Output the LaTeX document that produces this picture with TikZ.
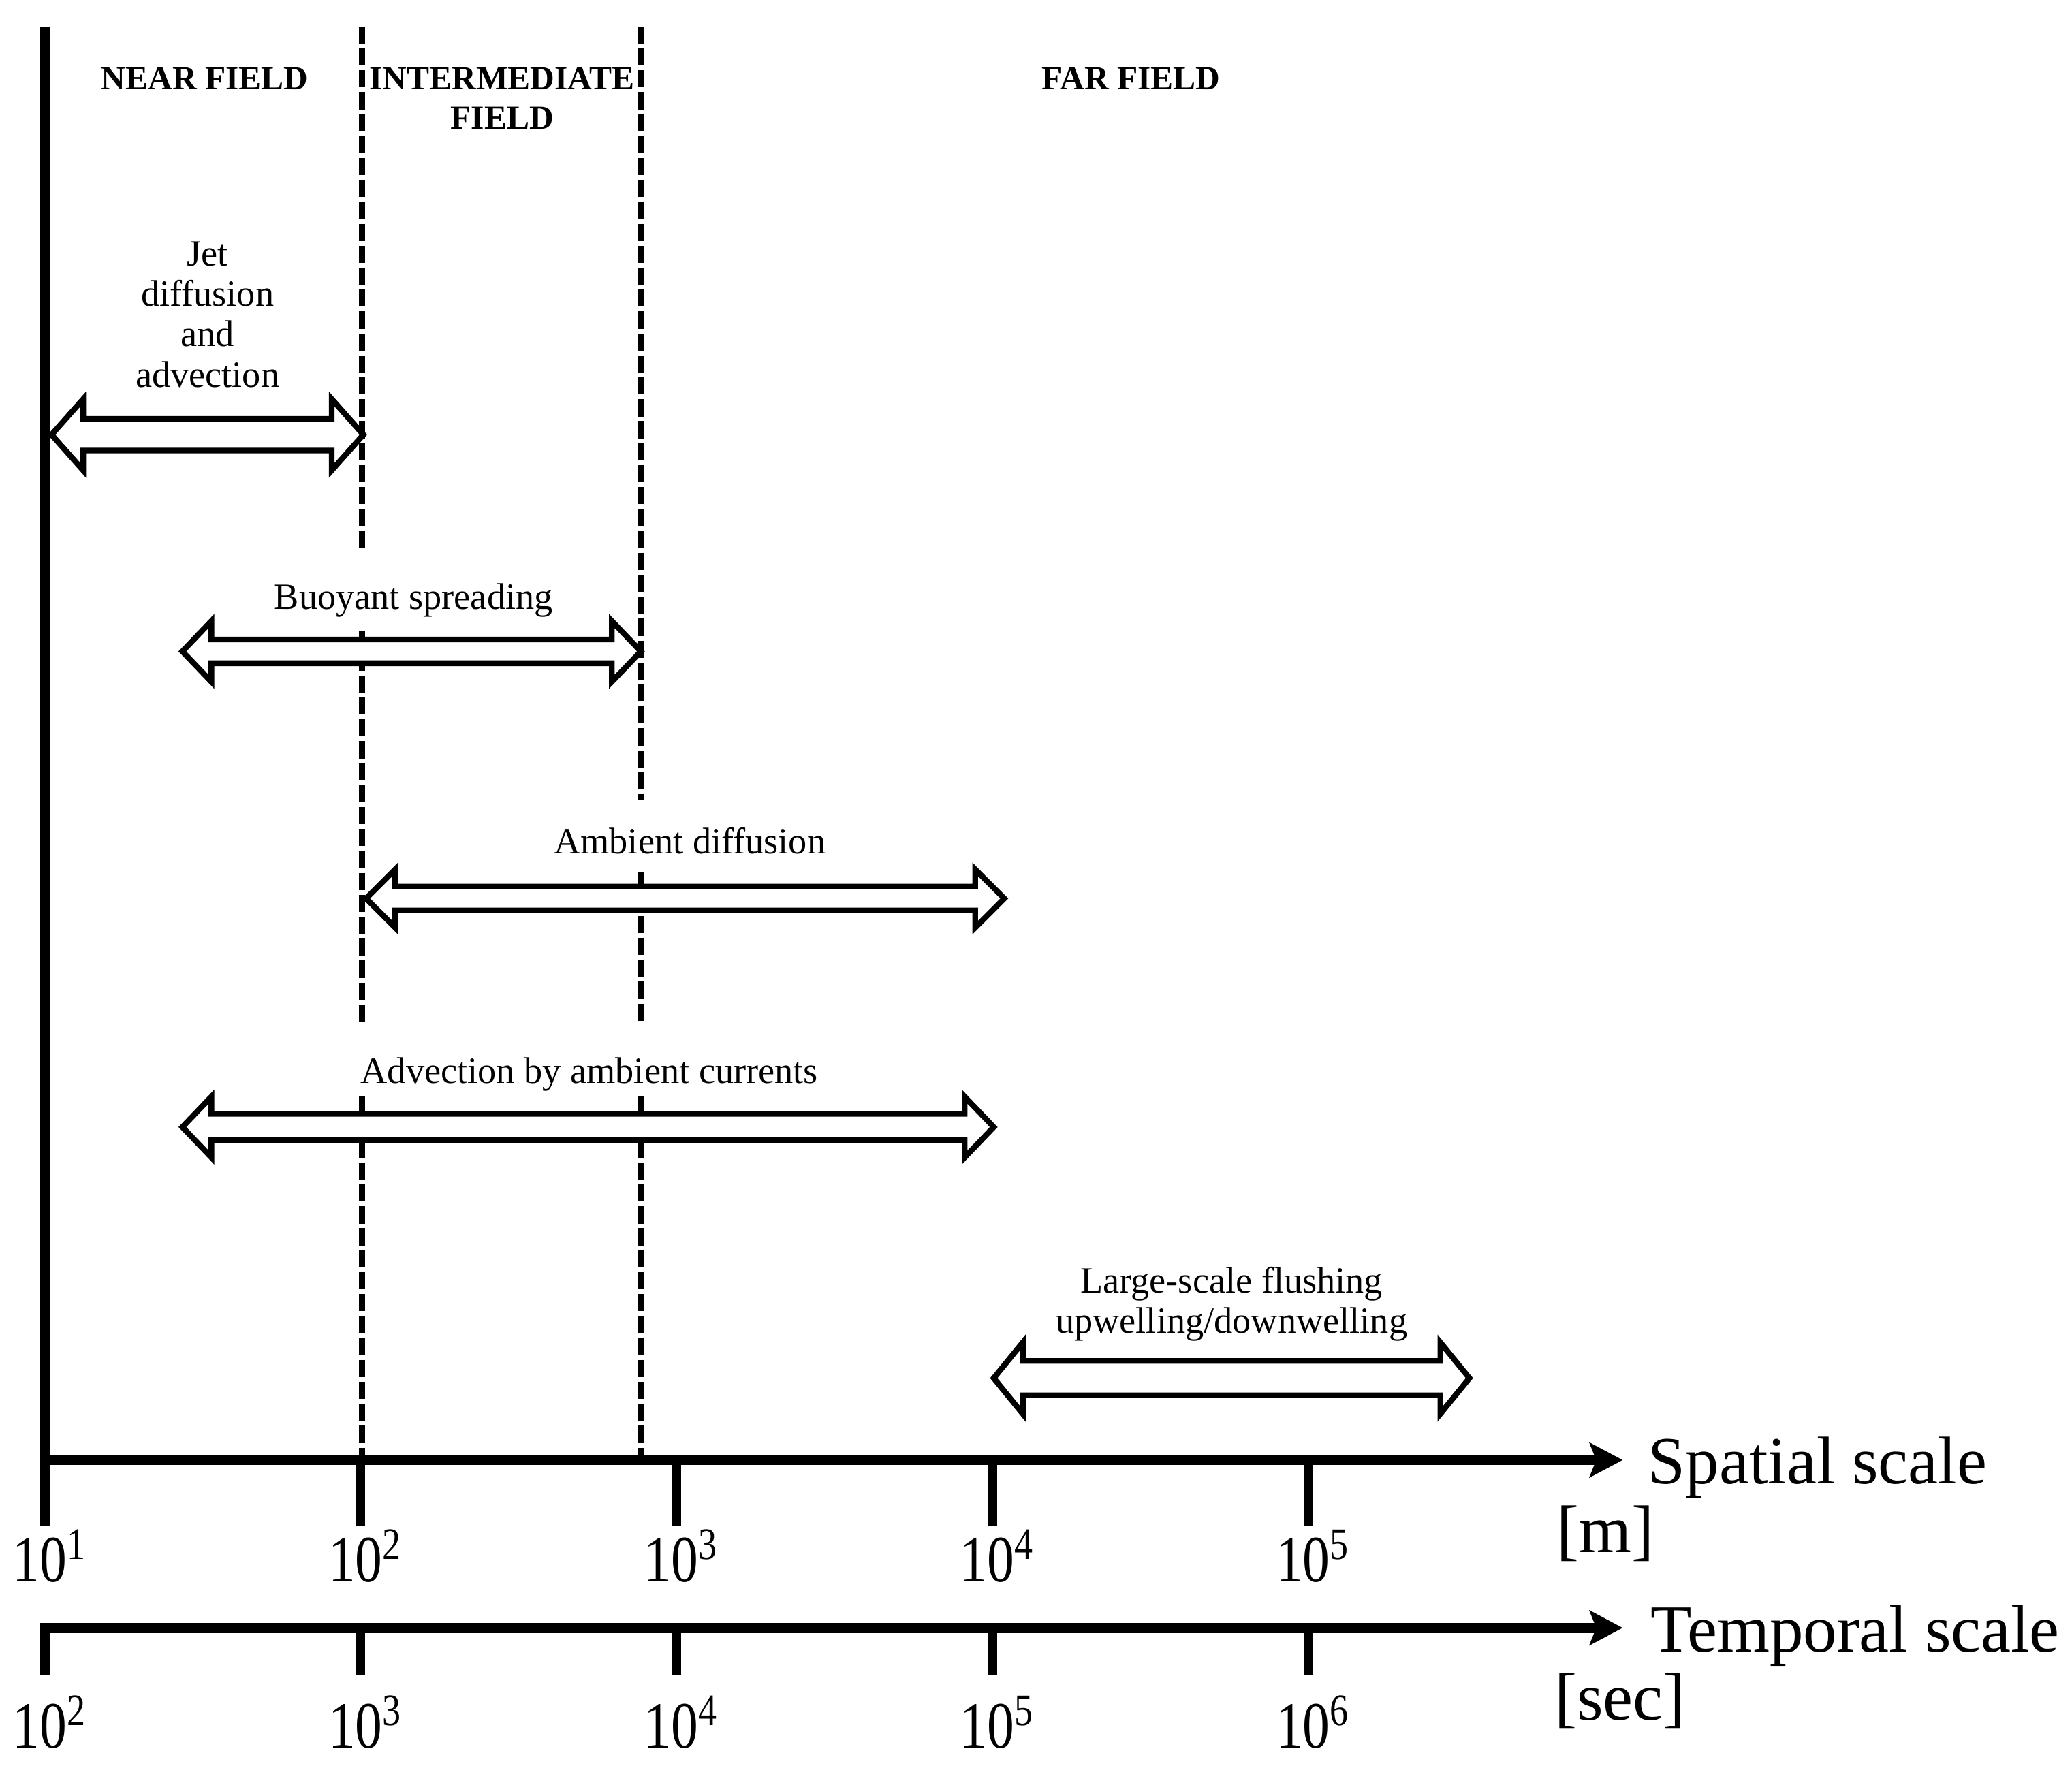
\documentclass[tikz,border=0pt]{standalone}
\usepackage{fontspec}
\setmainfont{Liberation Serif}
\newfontfamily\condfont[FakeStretch=0.82]{Liberation Serif}
\usetikzlibrary{arrows.meta}
% double block arrow: #1 left tip x, #2 right tip x, #3 y, #4 shaft half, #5 head half, #6 head length, #7 name
\newcommand{\dblarr}[7]{%
  \filldraw[arrowbox] (#1,#3) -- (#1+#6,#3-#5) -- (#1+#6,#3-#4) -- (#2-#6,#3-#4) -- (#2-#6,#3-#5)
    -- (#2,#3) -- (#2-#6,#3+#5) -- (#2-#6,#3+#4) -- (#1+#6,#3+#4) -- (#1+#6,#3+#5) -- cycle;
  \coordinate (#7) at ({(#1+#2)/2},#3);}
\newcommand{\tenpow}[1]{10\raisebox{17pt}{\fontsize{34}{34}\selectfont #1}}
\begin{document}
\begin{tikzpicture}[x=1pt,y=-1pt,
  boundary/.style={line width=7.7pt},
  fieldsep/.style={line width=4.6pt, dash pattern=on 13pt off 3.6pt},
  axisline/.style={line width=7.6pt, -{Stealth[length=25pt,width=26pt,inset=5pt]}},
  ticksty/.style={line width=7pt},
  arrowbox/.style={draw=black, fill=white, line width=4.3pt, line join=miter},
  lab/.style={font=\fontsize{28}{30.5}\selectfont, inner sep=0pt, align=center},
  fieldlab/.style={font=\bfseries\fontsize{25.5}{30}\selectfont, inner sep=0pt, align=center},
  ticklab/.style={font=\condfont\fontsize{50}{52}\selectfont, inner sep=0pt, anchor=base},
  axlab/.style={font=\fontsize{51}{55}\selectfont, inner sep=0pt}
]
\useasboundingbox (0,0) rectangle (1568,1338);

% field separators (dashed)
\draw[fieldsep] (274,20) -- (274,418);
\draw[fieldsep] (274,478) -- (274,775);
\draw[fieldsep] (274,830) -- (274,1105);
\draw[fieldsep] (485,20) -- (485,605);
\draw[fieldsep] (485,660) -- (485,775);
\draw[fieldsep] (485,830) -- (485,1105);

% left boundary
\draw[boundary] (34,20) -- (34,1155);

% axes
\coordinate (sA) at (30,1105);
\coordinate (sB) at (1228,1105);
\coordinate (tA) at (30,1232);
\coordinate (tB) at (1228,1232);
\draw[axisline] (sA) -- (sB);
\draw[axisline] (tA) -- (tB);

% ticks
\foreach \x in {273,512,751,990} {\draw[ticksty] (\x,1105) -- (\x,1155);}
\foreach \x in {34,273,512,751,990} {\draw[ticksty] (\x,1232) -- (\x,1268);}

% tick labels
\node[ticklab] (s1) at (37,1197) {\tenpow{1}};
\node[ticklab] (s2) at (276,1197) {\tenpow{2}};
\node[ticklab] (s3) at (515,1197) {\tenpow{3}};
\node[ticklab] (s4) at (754,1197) {\tenpow{4}};
\node[ticklab] (s5) at (993,1197) {\tenpow{5}};
\node[ticklab] (t2) at (37,1323) {\tenpow{2}};
\node[ticklab] (t3) at (276,1323) {\tenpow{3}};
\node[ticklab] (t4) at (515,1323) {\tenpow{4}};
\node[ticklab] (t5) at (754,1323) {\tenpow{5}};
\node[ticklab] (t6) at (993,1323) {\tenpow{6}};

% axis titles
\node[axlab, anchor=base west] (spatial) at (1247,1123) {Spatial scale};
\node[axlab, anchor=base] (munit) at (1215,1175) {[m]};
\node[axlab, anchor=base west] (temporal) at (1249,1250) {Temporal scale};
\node[axlab, anchor=base] (sunit) at (1226,1302) {[sec]};

% process arrows
\dblarr{39}{275}{329}{12}{27}{24}{jet}
\dblarr{138}{485}{493}{9}{23}{22}{buoy}
\dblarr{277}{760}{680}{9}{22}{22}{amb}
\dblarr{138}{752}{853}{10}{23}{22}{adv}
\dblarr{752}{1112}{1043}{13}{27}{22}{large}

% field labels
\node[fieldlab, anchor=base] (near) at (155,68) {NEAR FIELD};
\node[fieldlab] (inter) at (380,74.5) {INTERMEDIATE\\FIELD};
\node[fieldlab, anchor=base] (far) at (856,68) {FAR FIELD};

% process labels
\node[lab] (jetlab) at (157,238) {Jet\\diffusion\\and\\advection};
\node[lab, anchor=base] (buoylab) at (313,461) {Buoyant spreading};
\node[lab, anchor=base] (amblab) at (522,646) {Ambient diffusion};
\node[lab, anchor=base] (advlab) at (446,820) {Advection by ambient currents};
\node[lab] (largelab) at (932,987) {Large-scale flushing\\upwelling/downwelling};
\end{tikzpicture}
\end{document}
